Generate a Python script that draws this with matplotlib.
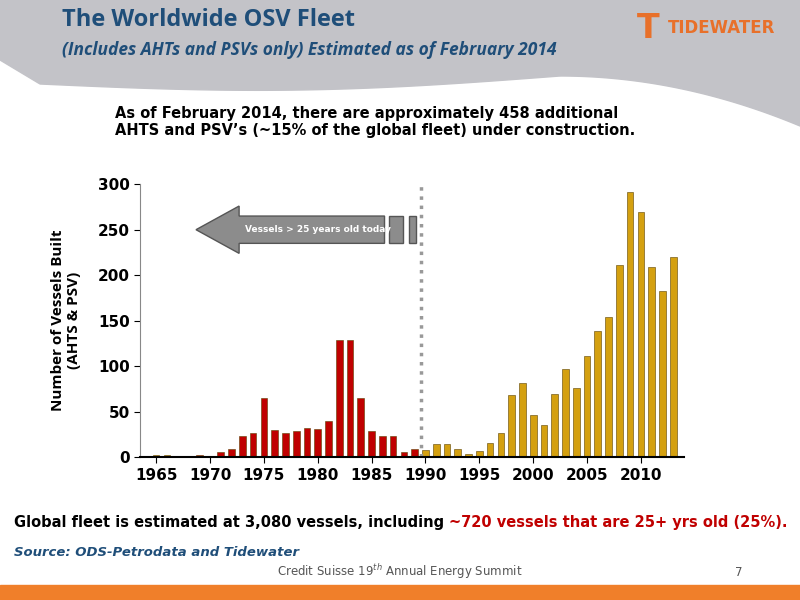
import matplotlib
matplotlib.use("Agg")
import matplotlib.pyplot as plt
from matplotlib.patches import FancyArrow, Rectangle
import numpy as np

years = list(range(1965, 2014))
built = [2, 2, 1, 1, 2, 1, 6, 9, 23, 27, 65, 30, 27, 29, 32, 31, 40, 129, 129, 65,
         29, 23, 23, 6, 9,
         8, 14, 14, 9, 3, 7, 16, 27, 68, 82, 46, 35, 70, 97, 76, 111, 139, 154, 211,
         291, 270, 209, 183, 220]
colors = ['#D4A010' if (y >= 1990 or y < 1967) else '#C00000' for y in years]

fig = plt.figure(figsize=(8, 6), dpi=100)
bg = fig.add_axes([0, 0, 1, 1], zorder=-5)
bg.set_xlim(0, 800); bg.set_ylim(600, 0); bg.axis('off')
xs = np.linspace(0, 800, 300)
curve = np.where(xs < 40, 60 + xs*0.6,
         np.where(xs < 560, 84 + 10*np.sin((xs-40)/520*np.pi) - 8*(xs-40)/520,
                  76 + ((xs-560)/240)**2*50))
bg.fill_between(xs, 0, curve, color='#C3C3C8')
bg.add_patch(Rectangle((0, 585), 800, 15, color='#F07F2A'))
bg.text(62, 20, 'The Worldwide OSV Fleet', fontsize=17, color='#1F4E79', fontweight='bold', va='center', family='Open Sans')
bg.text(62, 50, '(Includes AHTs and PSVs only) Estimated as of February 2014', fontsize=12.5, color='#1F4E79',
        fontweight='bold', style='italic', va='center', family='Open Sans')
bg.text(668, 28, 'TIDEWATER', fontsize=12, color='#E8702A', fontweight='bold', va='center')
bg.text(637, 28, 'T', fontsize=24, color='#E8702A', fontweight='bold', va='center')
bg.text(115, 122, "As of February 2014, there are approximately 458 additional\nAHTS and PSV’s (~15% of the global fleet) under construction.",
        fontsize=10.5, fontweight='bold', va='center', linespacing=1.2)
t1 = bg.text(14, 523, 'Global fleet is estimated at 3,080 vessels, including ', fontsize=10.5, fontweight='bold', va='center')
bg.annotate('~720 vessels that are 25+ yrs old (25%).', xy=(1, 0.5), xycoords=t1, va='center',
            fontsize=10.5, fontweight='bold', color='#C00000')
bg.text(14, 552, 'Source: ODS-Petrodata and Tidewater', fontsize=9.5, fontweight='bold', style='italic', va='center', color='#1F4E79')
bg.text(400, 572, 'Credit Suisse 19$^{th}$ Annual Energy Summit', fontsize=8.5, color='#555555', va='center', ha='center')
bg.text(735, 572, '7', fontsize=8.5, color='#555555', va='center')

ax = fig.add_axes([0.175, 0.238, 0.68, 0.455])
ax.set_facecolor('none')
ax.bar(years, built, width=0.62, color=colors, edgecolor='#5a4000', linewidth=0.4)
ax.set_xlim(1963.5, 2014)
ax.set_ylim(0, 300)
ax.set_yticks(range(0, 301, 50))
ax.set_xticks(range(1965, 2011, 5))
ax.tick_params(labelsize=11, length=4)
for t in ax.get_xticklabels() + ax.get_yticklabels():
    t.set_fontweight('bold')
for s in ['top', 'right']:
    ax.spines[s].set_visible(False)
ax.spines['left'].set_color('#888888')
ax.spines['bottom'].set_linewidth(1.5)
ax.set_ylabel('Number of Vessels Built\n(AHTS & PSV)', fontsize=11, fontweight='bold', family='Open Sans', labelpad=12)
ax.axvline(1989.6, color='#999999', linestyle=':', linewidth=2.5)
ax.add_patch(FancyArrow(1986.2, 250, -17.5, 0, width=30, head_width=52, head_length=4,
                        facecolor='#8C8C8C', edgecolor='#555555', zorder=3, length_includes_head=True))
ax.add_patch(Rectangle((1986.6, 235), 1.3, 30, facecolor='#8C8C8C', edgecolor='#555555'))
ax.add_patch(Rectangle((1988.5, 235), 0.6, 30, facecolor='#8C8C8C', edgecolor='#555555'))
ax.text(1980.0, 250, 'Vessels > 25 years old today', color='white', fontsize=6.5, fontweight='bold', ha='center', va='center', zorder=4)

fig.savefig('out.png', dpi=100)
